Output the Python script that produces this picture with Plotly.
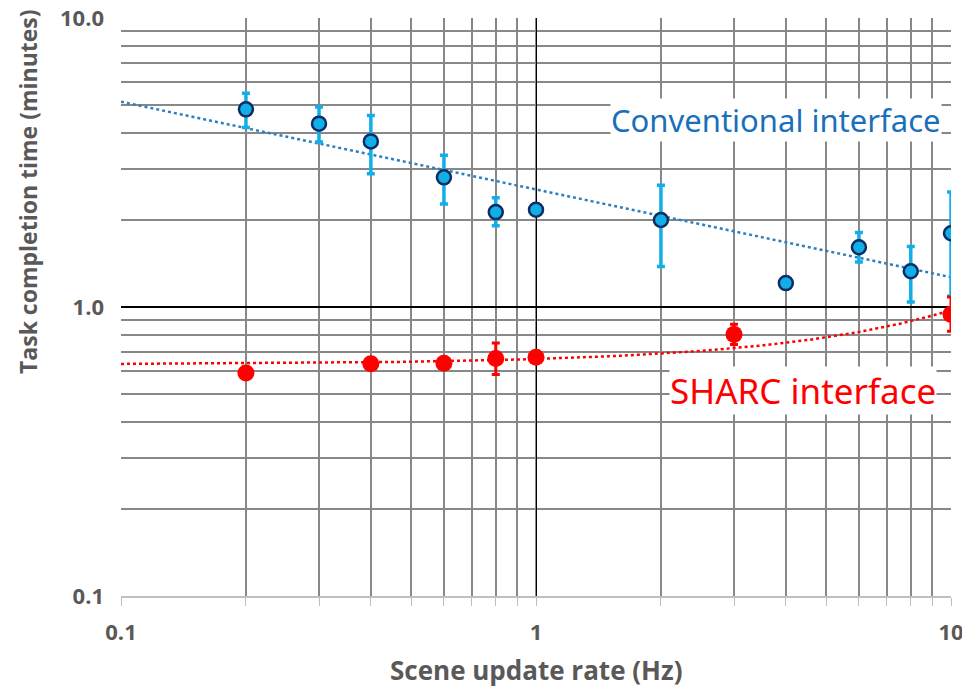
import numpy as np
import plotly.graph_objects as go

# ---- data ----
rate_conv = [0.2, 0.3, 0.4, 0.6, 0.8, 1, 2, 4, 6, 8, 10]
time_conv = [4.83, 4.31, 3.74, 2.81, 2.13, 2.17, 2.00, 1.21, 1.61, 1.33, 1.80]
conv_hi = [5.49, 4.92, 4.60, 3.35, 2.39, None, 2.64, None, 1.81, 1.62, 2.50]
conv_lo = [4.18, 3.72, 2.89, 2.27, 1.91, None, 1.38, None, 1.43, 1.04, 1.09]

rate_sharc = [0.2, 0.4, 0.6, 0.8, 1, 3, 10]
time_sharc = [0.591, 0.636, 0.639, 0.664, 0.670, 0.804, 0.943]
sharc_hi = [None, None, None, 0.751, None, 0.871, 1.083]
sharc_lo = [None, None, None, 0.584, None, 0.742, 0.825]

x_tick_vals = [0.1, 1, 10]
x_tick_text = ["0.1", "1", "10"]
y_tick_vals = [0.1, 1, 10]
y_tick_text = ["0.1", "1.0", "10.0"]


def err(vals, hi, lo):
    plus = [(h - v) if h is not None else 0 for v, h in zip(vals, hi)]
    minus = [(v - l) if l is not None else 0 for v, l in zip(vals, lo)]
    return plus, minus


cp, cm = err(time_conv, conv_hi, conv_lo)
sp, sm = err(time_sharc, sharc_hi, sharc_lo)

# trendlines (Excel-style fits computed from the data)
xf = np.logspace(-1, 1, 200)
b_pow, a_pow = np.polyfit(np.log10(rate_conv), np.log10(time_conv), 1)
yf_conv = 10 ** (a_pow + b_pow * np.log10(xf))
b_exp, a_exp = np.polyfit(np.array(rate_sharc), np.log(time_sharc), 1)
yf_sharc = np.exp(a_exp + b_exp * xf)

BLUE_FILL = "#12aee8"
BLUE_EDGE = "#0d2d63"
BLUE_ERR = "#12aee8"
BLUE_TREND = "#2e7fc0"
RED = "#ff0000"
GRAY = "#595959"

fig = go.Figure()

fig.add_trace(go.Scatter(x=xf, y=yf_conv, mode="lines",
                         line=dict(color=BLUE_TREND, width=2.5, dash="dot"),
                         showlegend=False, hoverinfo="skip"))
fig.add_trace(go.Scatter(x=xf, y=yf_sharc, mode="lines",
                         line=dict(color=RED, width=2.5, dash="dot"),
                         showlegend=False, hoverinfo="skip"))

fig.add_trace(go.Scatter(
    x=rate_conv, y=time_conv, mode="markers",
    marker=dict(size=14, color=BLUE_FILL, line=dict(color=BLUE_EDGE, width=2.5)),
    error_y=dict(type="data", array=cp, arrayminus=cm, symmetric=False,
                 color=BLUE_ERR, thickness=3.5, width=4),
    showlegend=False))

fig.add_trace(go.Scatter(
    x=rate_sharc, y=time_sharc, mode="markers",
    marker=dict(size=17, color=RED, line=dict(width=0)),
    error_y=dict(type="data", array=sp, arrayminus=sm, symmetric=False,
                 color=RED, thickness=3, width=4),
    showlegend=False))

fig.add_annotation(xref="paper", yref="paper", x=0.789, y=0.824,
                   xanchor="center", yanchor="middle",
                   text="Conventional interface", showarrow=False,
                   font=dict(family="Noto Sans", size=31, color="#1a6fba"),
                   bgcolor="white", borderpad=0)
fig.add_annotation(xref="paper", yref="paper", x=0.822, y=0.356,
                   xanchor="center", yanchor="middle",
                   text="SHARC interface", showarrow=False,
                   font=dict(family="Noto Sans", size=35, color=RED),
                   bgcolor="white", borderpad=0)

# axis titles (placed as in the reference, y title sits above centre)
fig.add_annotation(xref="paper", yref="paper", x=-0.112, y=0.699,
                   xanchor="center", yanchor="middle", textangle=-90,
                   text="Task completion time (minutes)", showarrow=False,
                   font=dict(family="Open Sans", size=23, color=GRAY, weight="bold"))
fig.add_annotation(xref="paper", yref="paper", x=0.5, y=-0.128,
                   xanchor="center", yanchor="middle",
                   text="Scene update rate (Hz)", showarrow=False,
                   font=dict(family="Open Sans", size=26, color=GRAY, weight="bold"))

# page body has an 8px margin: size/margins chosen so the plot lands where the reference has it
fig.update_layout(
    width=962, height=685,
    margin=dict(l=113, r=19, t=10, b=97, autoexpand=False),
    paper_bgcolor="white", plot_bgcolor="white",
    font=dict(family="Open Sans", color=GRAY),
)

fig.update_xaxes(
    type="log", range=[-1, 1], automargin=False,
    tickvals=x_tick_vals, ticktext=x_tick_text,
    tickfont=dict(size=22, family="Open Sans", color=GRAY, weight="bold"),
    ticklabelstandoff=8, ticklabeloverflow="allow",
    showgrid=True, gridcolor="#000000", gridwidth=1,
    showline=True, linecolor="#bfbfbf", linewidth=2, mirror=False,
    ticks="outside", ticklen=8, tickcolor="#bfbfbf",
    minor=dict(dtick="D1", showgrid=True, gridcolor="#888888", gridwidth=1.6,
               ticks="outside", ticklen=8, tickcolor="#bfbfbf"),
    zeroline=False,
)
fig.update_yaxes(
    type="log", range=[-1, 1], automargin=False,
    tickvals=y_tick_vals, ticktext=y_tick_text,
    tickfont=dict(size=22, family="Open Sans", color=GRAY, weight="bold"),
    ticklabelstandoff=16, ticklabeloverflow="allow",
    showgrid=True, gridcolor="#000000", gridwidth=2,
    showline=False,
    ticks="", ticklen=0,
    minor=dict(dtick="D1", showgrid=True, gridcolor="#888888", gridwidth=1.6),
    zeroline=False,
)

fig.write_html("out.html")
